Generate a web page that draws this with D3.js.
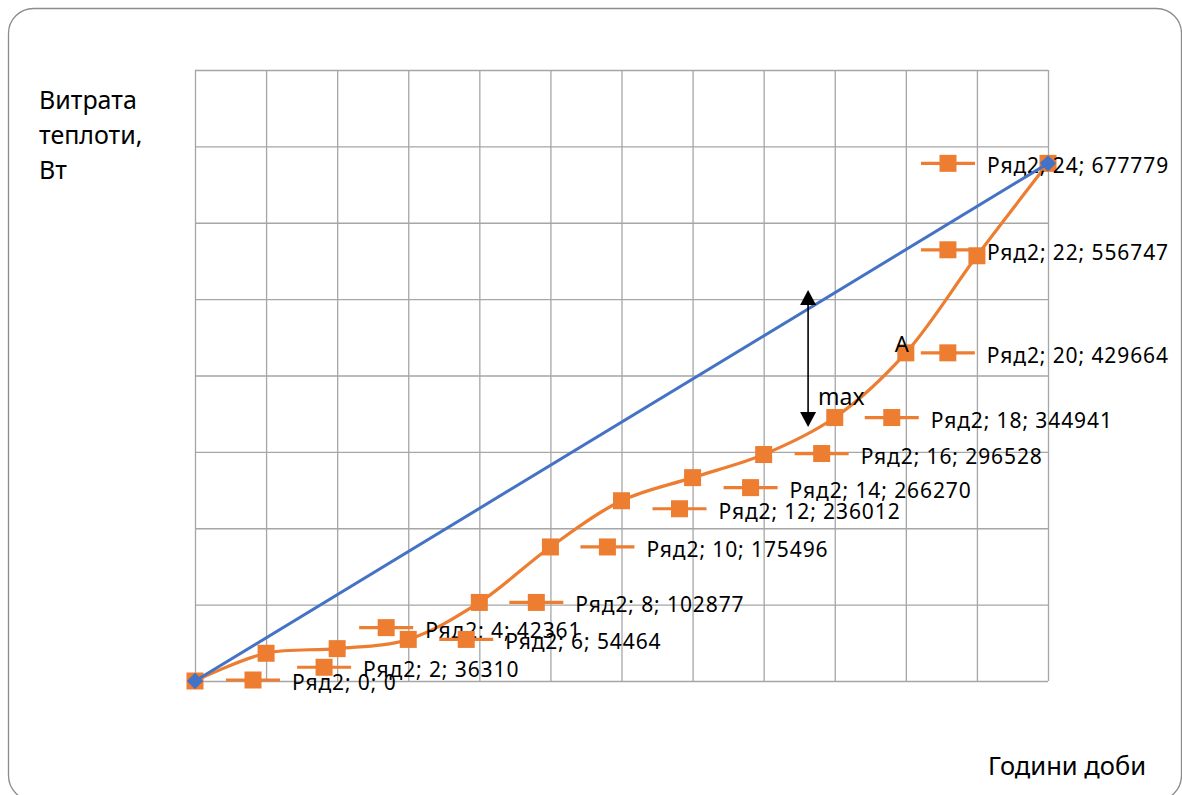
<!DOCTYPE html>
<html>
<head>
<meta charset="utf-8">
<script src="https://cdn.jsdelivr.net/npm/d3@7"></script>
<style>
  html, body { margin: 0; padding: 0; background: #fff; }
  svg { display: block; }
  text { font-family: "Noto Sans", "Open Sans", sans-serif; fill: #000; }
</style>
</head>
<body>
<svg id="chart" width="1182" height="795"></svg>
<script>
// Hourly cumulative heat consumption (Ряд2) and the uniform-supply line
const hours = [0, 2, 4, 6, 8, 10, 12, 14, 16, 18, 20, 22, 24];
const heatUse = [0, 36310, 42361, 54464, 102877, 175496, 236012, 266270, 296528, 344941, 429664, 556747, 677779];
const seriesName = "Ряд2";
const uniformHours = [0, 24];
const uniformHeat = [0, 677779];
const xTicks = [0, 2, 4, 6, 8, 10, 12, 14, 16, 18, 20, 22, 24];
const yTicks = [0, 100000, 200000, 300000, 400000, 500000, 600000, 700000, 800000];

// Data-label placement (pixel offsets of the label key from its point)
const labelOffsets = [
  [58, -1], [58, 14], [49, -21], [58, 0], [57, 0], [57, 0], [58, 8],
  [58, 10], [58, -1], [57, 0], [42, 0], [-29, -6], [-100, 0]
];

const ORANGE = "#ED7D31";
const BLUE = "#4472C4";
const GRID = "#a6a6a6";

const svg = d3.select("#chart");

// Chart frame
svg.append("rect")
  .attr("x", 8.5).attr("y", 8.5)
  .attr("width", 1173).attr("height", 792)
  .attr("rx", 25).attr("ry", 25)
  .attr("fill", "#fff")
  .attr("stroke", "#8c8c8c").attr("stroke-width", 1.3);

const plot = { left: 195, right: 1048, top: 70, bottom: 681 };
const x = d3.scaleLinear().domain([0, 24]).range([plot.left, plot.right]);
const y = d3.scaleLinear().domain([0, 800000]).range([plot.bottom, plot.top]);

// Gridlines drawn from axes without labels
const gx = svg.append("g")
  .attr("transform", `translate(0,${plot.bottom})`)
  .call(d3.axisBottom(x).tickValues(xTicks).tickSize(-(plot.bottom - plot.top)).tickFormat(""));
const gy = svg.append("g")
  .attr("transform", `translate(${plot.left},0)`)
  .call(d3.axisLeft(y).tickValues(yTicks).tickSize(-(plot.right - plot.left)).tickFormat(""));
[gx, gy].forEach(g => {
  g.select(".domain").remove();
  g.selectAll(".tick line").attr("stroke", GRID).attr("stroke-width", 1.3);
});

// Axis titles
const yTitle = svg.append("text").attr("font-size", 25);
["Витрата", "теплоти,", "Вт"].forEach((t, i) => {
  yTitle.append("tspan").attr("x", 39).attr("y", 109 + i * 35).text(t);
});
svg.append("text").attr("x", 988).attr("y", 775).attr("font-size", 25.5).text("Години доби");

const pts = hours.map((h, i) => ({ h, v: heatUse[i], i }));

// Heat consumption curve
svg.append("path")
  .datum(pts)
  .attr("fill", "none")
  .attr("stroke", ORANGE)
  .attr("stroke-width", 3.2)
  .attr("stroke-linejoin", "round")
  .attr("d", d3.line().x(d => x(d.h)).y(d => y(d.v)).curve(d3.curveCatmullRom.alpha(0.5)));

svg.append("g").selectAll("rect")
  .data(pts).join("rect")
  .attr("x", d => x(d.h) - 8.5).attr("y", d => y(d.v) - 8.5)
  .attr("width", 17).attr("height", 17)
  .attr("fill", ORANGE);

// Data labels with legend key
const lab = svg.append("g").selectAll("g")
  .data(pts).join("g")
  .attr("transform", d => {
    const o = labelOffsets[d.i];
    return `translate(${x(d.h) + o[0]},${y(d.v) + o[1]})`;
  });
lab.append("line")
  .attr("x1", -27).attr("x2", 27)
  .attr("stroke", ORANGE).attr("stroke-width", 3.2);
lab.append("rect")
  .attr("x", -8.5).attr("y", -8.5).attr("width", 17).attr("height", 17)
  .attr("fill", ORANGE);
lab.append("text")
  .attr("x", 39).attr("y", 10)
  .attr("font-size", 21)
  .attr("letter-spacing", 0.9)
  .text(d => `${seriesName}; ${d.h}; ${d.v}`);

// Uniform supply line
const upts = uniformHours.map((h, i) => ({ h, v: uniformHeat[i] }));
svg.append("path")
  .datum(upts)
  .attr("fill", "none")
  .attr("stroke", BLUE).attr("stroke-width", 3)
  .attr("d", d3.line().x(d => x(d.h)).y(d => y(d.v)));
svg.append("g").selectAll("path")
  .data(upts).join("path")
  .attr("transform", d => `translate(${x(d.h)},${y(d.v)})`)
  .attr("d", d3.symbol(d3.symbolDiamond2, 170)())
  .attr("fill", BLUE);

// Maximum-gap arrow and annotations
const arrowX = x(17.25);
const arrowTop = y(512000), arrowBot = y(332500);
svg.append("line")
  .attr("x1", arrowX).attr("x2", arrowX)
  .attr("y1", arrowTop + 12).attr("y2", arrowBot - 12)
  .attr("stroke", "#000").attr("stroke-width", 1.6);
svg.append("path")
  .attr("d", `M${arrowX},${arrowTop} L${arrowX - 8},${arrowTop + 15} L${arrowX + 8},${arrowTop + 15} Z`)
  .attr("fill", "#000");
svg.append("path")
  .attr("d", `M${arrowX},${arrowBot} L${arrowX - 8},${arrowBot - 15} L${arrowX + 8},${arrowBot - 15} Z`)
  .attr("fill", "#000");
svg.append("text").attr("x", arrowX + 10).attr("y", 405).attr("font-size", 23).text("max");
svg.append("text").attr("x", x(20) - 11).attr("y", 352).attr("font-size", 22).text("A");
</script>
</body>
</html>
